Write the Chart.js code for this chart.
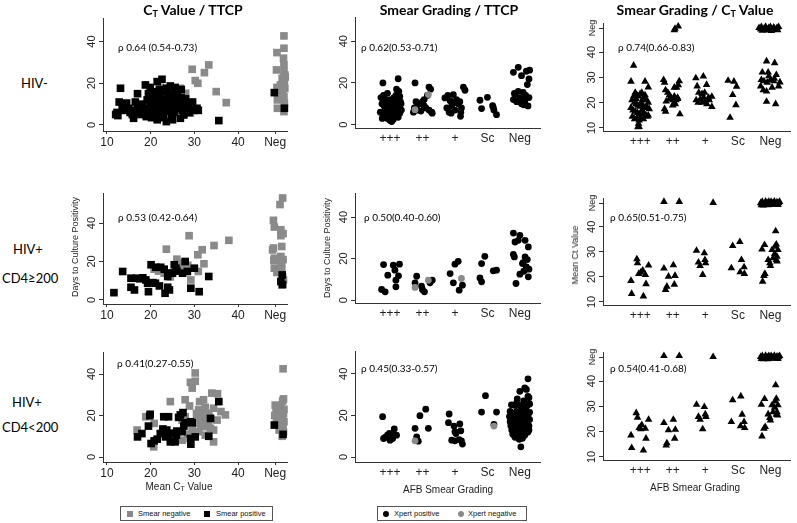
<!DOCTYPE html>
<html>
<head>
<meta charset="utf-8">
<script src="https://cdn.jsdelivr.net/npm/chart.js@4.4.1/dist/chart.umd.min.js"></script>
<style>
  body { margin: 0; background: #fff; }
  #fig { position: relative; width: 797px; height: 523px; overflow: hidden; background: #fff;
         font-family: 'Liberation Sans', Arial, sans-serif; color: #000; }
  #fig canvas { position: absolute; }
  .t { position: absolute; white-space: nowrap; line-height: 16px; z-index: 2; color: #000; }
  .coltitle { font-family: Lato, sans-serif; font-weight: 700; font-size: 14px; transform: translateX(-50%); }
  .coltitle sub { font-size: 9px; vertical-align: -2px; }
  .rowlab { font-family: Lato, sans-serif; font-size: 13px; }
  .rho { font-family: Lato, sans-serif; font-size: 10px; }
  .ytitle { font-size: 9px; color: #222; transform: translate(-50%, -50%) rotate(-90deg); }
  .xtitle { font-size: 10px; color: #222; transform: translateX(-50%); }
  .xtitle sub { font-size: 7px; vertical-align: -1px; }
  .legend { position: absolute; border: 1px solid #555; height: 15px; font-size: 7.5px; z-index: 2;
            box-sizing: border-box; color: #111; }
  .legend span { position: absolute; top: 0; line-height: 13px; white-space: nowrap; }
  .legend i { position: absolute; top: 3.5px; width: 6px; height: 6px; }
</style>
</head>
<body>
<div id="fig"></div>
<script>
// ---- data ----
const smearGrades = ['+++', '++', '+', 'Sc', 'Neg'];
const gradeTicks = [1, 2, 3, 4, 5];
const ctTicks = [10, 20, 30, 40, 48.5];
const ctTickLabels = ['10', '20', '30', '40', 'Neg'];
const ttcpTicks = [0, 20, 40];
const ttcpTickLabels = ['0', '20', '40'];
const ctAxisTicks = [10, 20, 30, 40, 49.5];
const ctAxisLabels = ['10', '20', '30', '40', 'Neg'];

// HIV-: Ct value vs TTCP
const hivNegCtSmearPos = [
  [12,5],[12.3,6],[12.5,4.5],[12.8,11],[13.1,17.6],[13.5,8],[14,7],[14.5,10.5],[15,8],[15.3,6],[15.8,5],[16.1,3.2],
  [16.5,7],[17,15],[17,9],[17.3,6],[17.8,5],[18.2,10],[18.5,8],[18.8,19.2],[19,4],[19.2,12],[19.5,6.5],[19.9,18],
  [20,10],[20,8],[20.2,3.5],[20.5,13],[20.7,6],[21,11],[21,4],[21.3,9],[21.5,20.8],[21.6,7],[21.8,12.5],[22,5.5],
  [22.2,14],[22.4,10],[22.6,21.9],[22.8,8],[23,3.5],[23,12],[23.3,16],[23.5,6.5],[23.6,1.6],[23.7,17.6],[23.9,10],
  [24.1,13],[24.3,7.5],[24.5,18.7],[24.6,11],[24.8,4.5],[25,9],[25.2,14.5],[25.4,6],[25.6,18],[25.8,12],[26,8],
  [26.2,16],[26.4,10.5],[26.8,3.2],[27,13],[27.2,7],[27.5,11],[27.6,4.8],[27.8,9],[28,12.5],[28.2,8],[28.5,10],
  [28.8,6],[29.2,7.5],[29.6,11],[30,7],[30.6,8],[30.9,7],[35.6,2.1],[16.5,11],[18,7],[19.5,15],[20.8,16],[22,17],
  [24,15],[21.5,2.5],[25,2.5],[26,14],[27,17],[48.3,15.5],[50.6,8]
];
const hivNegCtSmearNeg = [
  [22.2,18],[26.8,17.6],[28,15.2],[29.1,5.6],[29.5,26.7],[30.2,21.3],[30.8,20],[32.3,25.1],[33.3,28.8],[35,16],
  [37.3,10.7],[24,12],[26,9],[25,15],
  [50.5,42.7],[50.5,36.8],[48.9,34.7],[50.4,32],[50.5,28.8],[48.8,26.4],[50.5,25.6],[50.7,24],[50.1,22.4],
  [49.7,19.2],[48.9,18],[50.6,20.5],[50.7,17.5],[49.4,14.9],[50.5,13.6],[49,12],[50.6,10.5],[49,8],[50.5,6.4],
  [50.2,16.5],[50.8,23]
];

// HIV-: smear grade vs TTCP
const hivNegSmearXpertPos = [
  [0.78,20],[1.25,22],[0.72,13],[0.8,14],[0.85,12],[0.9,11],[0.75,10],[0.82,9],[0.88,8],[0.95,7],[0.7,6],[0.78,5],
  [0.86,4.5],[0.92,3],[1,2],[1.05,1.5],[1.1,4],[1.15,5],[1.2,6.5],[1.3,5.5],[1.35,7],[1.28,9],[1.32,11],[1.22,12],
  [1.18,14],[1.27,16],[1.2,17],[1.1,10],[1.05,8],[0.98,6],[1.02,12],[0.92,15],[1.12,13],[1.3,13.5],[0.84,7],
  [0.76,3],[1.15,9],[1.25,3.5],[0.96,10],[1.08,6],[0.9,5],[1.34,10],[1.22,8],[1.1,2.5],[0.8,11.5],
  [1.77,20],[2.2,18],[2.25,17],[2.15,14],[1.8,11],[1.9,10],[2,11],[2.05,9],[1.75,8],[1.85,7],[1.95,6.5],[2.1,8],
  [2.28,6],[2.3,5.5],[2.2,7],[1.72,6],[2.05,12],
  [2.69,12.8],[2.78,14],[2.85,11.5],[2.9,9],[2.75,8],[2.95,14.4],[3,7],[2.88,5.5],[2.82,6],[3.05,12],[3.1,10],
  [3.15,11],[3.2,8],[3.26,18],[3.31,16.5],[3.17,4],[3.18,6],[2.95,10.5],
  [3.77,11.7],[3.82,7.7],[4,13.1],[4.16,9.1],[4.18,8.3],[4.2,7],[4.28,4.8],
  [4.8,25.1],[4.95,27.5],[5.05,23.5],[5.2,25.6],[5.3,26.1],[5.28,21.9],[5.23,19.2],[4.85,14.4],[4.8,12],[4.9,11],
  [5,13],[5.05,10],[5.1,15.5],[5.12,9.5],[5.18,14],[5.25,9],[5.28,13],[4.95,16],[5.08,12],[4.83,15],[5.15,11]
];
const hivNegSmearXpertNeg = [[1.77,7.2],[2.18,14.4]];

// HIV-: smear grade vs Ct value
const hivNegSmearCt = [
  [0.8,34.7],[0.72,28.4],[1.15,28.4],[1.25,26.1],[0.85,24],[0.9,23],[0.95,22.5],[1,23.5],[1.05,24],[1.1,22],
  [0.75,21],[0.82,20],[0.88,19.5],[0.93,19],[0.98,18.5],[1.03,20],[1.08,19],[1.13,18],[1.2,21],[1.25,20],
  [1.28,17.5],[0.72,18],[0.78,17],[0.85,16.5],[0.92,16],[1,15.5],[1.05,17],[1.12,16],[1.18,15],[1.22,14.5],
  [0.76,14.5],[0.83,13.5],[0.9,14],[0.97,13],[1.02,14],[1.1,13.5],[1.25,15],[0.95,11.7],[0.93,10.4],[0.97,10.5],
  [0.8,22.5],[1.15,23],[1.2,18.5],[0.88,21.5],[1.08,21],
  [1.72,29],[1.75,28],[1.78,25],[1.85,24],[1.9,23],[1.95,22],[2,21],[2.05,22.5],[2.1,21],[2.15,22],[2.2,28.5],
  [2.17,27],[2.12,26],[2.05,26],[1.75,17.5],[1.78,16.5],[2,19],[2.05,20],[2.22,15.5],[2.15,21.5],[1.8,20.5],
  [1.9,21.5],[2.08,19.5],[2.07,49.3],[2.17,50.2],[2.05,48.7],
  [2.71,29.7],[2.94,30.4],[2.75,26.5],[3.04,27.1],[2.8,24],[2.9,23.5],[2.95,22],[2.85,21.5],[2.72,21],[2.78,20],
  [2.9,20],[3,20.5],[3.1,22],[3.12,21],[3.2,18.4],[3.2,22.4],[3.05,19.5],[2.98,24],
  [3.7,28.7],[3.88,28.4],[3.96,26.4],[3.84,23.1],[3.94,19.1],[3.76,14.1],
  [4.65,49.6],[4.72,50],[4.8,49.2],[4.85,50.1],[4.9,48.6],[4.95,49.6],[5,50],[5.05,49],[5.1,49.8],[5.15,48.8],
  [5.2,49.6],[5.25,50],[4.75,48.5],[4.88,49.3],[5.03,48.4],[5.12,49.3],[5.22,48.7],[4.7,49],
  [4.88,36.4],[5.13,35.7],[4.75,32],[4.93,32],[5.18,31],[4.72,29],[4.8,28.5],[4.9,28],[5,29],[5.1,28.5],[5.29,28.1],
  [5.25,26.5],[4.7,26.5],[4.78,25],[4.88,24.5],[5.05,26],[5.12,29.5],[4.88,20.4],[5.16,19.5],[4.95,30.5]
];

// HIV+ CD4>=200: Ct value vs TTCP
const cd4HighCtSmearPos = [
  [11.6,3.8],[13.6,14.8],[15.5,11.3],[16.7,11.3],[15.5,6.6],[16.3,5.2],[18.9,10.4],[19.3,8.7],[19.5,4.3],[20.1,18.3],
  [21.2,17],[22.3,17],[23.1,16],[21.1,8.7],[22,7.3],[23.3,3.5],[23.9,6.6],[24.3,5.2],[23.9,12.2],[25,13.9],
  [25.4,18.3],[25.8,16.5],[27.3,13.9],[27.9,20],[28.4,14.8],[29.2,6.1],[30,16.5],[31.1,4.3],[33.3,12.2],[17.5,11],
  [18.2,11.5],[20.5,9],[26,15],[24.5,14],[50.1,13],[49.8,9.6],[50.2,8]
];
const cd4HighCtSmearNeg = [
  [23.6,26.4],[28.8,33.4],[31.8,26.1],[30.8,23.5],[34.5,28.3],[37.9,31],[26,21.2],[26.9,19.1],[32.2,18.8],[30.9,14.8],
  [29.2,10.4],[20.8,16],[23.1,13.9],[27.2,16.5],[28.5,18],[24.5,12],[21.8,15],
  [50.2,53],[49.6,49.6],[48.1,41.4],[48.3,37.9],[49.8,36.5],[49.8,33.4],[50,27.8],[48.1,27],[47.9,26],[48.3,21.7],
  [49.8,22.6],[50,19.1],[48.3,16.5],[48.9,14.3],[50,15.7],[50,7.8],[50.3,34.5],[50.3,21],[49.2,20.5],[50.2,12],
  [50.4,10.5],[48.2,20.5]
];

// HIV+ CD4>=200: smear grade vs TTCP
const cd4HighSmearXpertPos = [
  [0.8,17.1],[0.93,12],[0.74,5.1],[0.85,4],[1.1,16.8],[1.15,14.4],[1.18,9.6],[1.18,6.4],[1.29,17.3],[1.26,11.7],
  [1.82,11.5],[1.77,8.3],[1.97,6.7],[2.06,4],[2.23,8.3],[2.3,9.6],[2,5],
  [2.85,12.8],[3,17.3],[3.1,18.7],[2.95,8.3],[3.13,4.8],[3.23,7.2],
  [3.77,10.7],[3.82,8.8],[3.82,17.6],[3.92,21.1],[4.18,14.1],[4.28,14.4],
  [4.8,32.3],[5,31.2],[4.85,28],[4.95,28.8],[5.16,28.8],[5.26,25.6],[4.8,22],[4.83,20.8],[5.16,20.8],[5.23,19.5],
  [5.08,17.6],[5.2,16],[5.28,14.9],[5.12,13.9],[5,12.5],[4.88,8],[5.26,11.2],[5.2,15],[5.1,18]
];
const cd4HighSmearXpertNeg = [[1.77,6.1],[2.18,9.6],[3.2,10.4]];

// HIV+ CD4>=200: smear grade vs Ct value
const cd4HighSmearCt = [
  [0.9,27.1],[0.92,25.5],[0.72,18.5],[0.74,13.3],[0.96,21.3],[1.08,22.6],[1.1,12.3],[1.16,20.9],[1.18,17.2],[1.26,24.6],
  [1.02,21.8],
  [1.73,23.4],[1.87,20.2],[1.82,16.2],[1.78,14.9],[2.02,24.7],[2.07,20.5],[2.05,17],[1.73,50],[2.2,50],
  [2.73,30.5],[2.79,25.8],[2.84,24.4],[2.92,20.9],[2.97,29.5],[2.99,26.8],[3.01,25.5],[3.24,49.6],
  [3.8,23.5],[3.84,32.4],[4.06,34],[4.11,26.8],[4.07,21.9],[4.19,23.9],[4.2,21.3],
  [4.74,31],[4.76,18.2],[4.8,20.5],[4.83,21.3],[4.82,32.8],[4.93,26.8],[4.98,25.5],[5,24.4],[5.16,38.3],[5.18,33],
  [5.05,30.8],[5.08,27.5],[5.13,29.2],[5.2,28.1],[5.18,26.8],[5.23,30.8],[5.14,32.1],[5.2,26.2],
  [4.7,49.5],[4.75,50],[4.8,49],[4.85,50.1],[4.9,49.5],[4.95,50],[5,48.8],[5.02,50],[5.07,49.4],[5.12,50.1],
  [5.15,48.9],[5.2,49.8],[5.25,49.5],[5.28,50],[4.78,48.6],[4.92,48.7],[5.1,49.2],[5.23,48.8],[4.72,48.7]
];

// HIV+ CD4<200: Ct value vs TTCP
const cd4LowCtSmearPos = [
  [17,9.7],[18,11.3],[19.5,14.9],[19.8,19.9],[19.9,20.6],[20.1,6.5],[20.8,7.8],[21.5,8.6],[22.2,11.3],[23,19.4],
  [24.1,19.4],[23.4,9.7],[23.7,13],[24.1,10.5],[24.5,7.3],[25.6,7.3],[25.9,10.5],[26.4,19.1],[26.8,20.3],[27.4,21.4],
  [27.2,12.2],[27.6,14.9],[27.9,16.5],[29.1,17],[29.5,16.5],[29.1,8.9],[29.2,6.2],[30.2,9.7],[33.3,10],[33.7,18.6],
  [35.6,26.7],[22.8,13.5],[25,11.5],[26,12.5],[48.3,15.4],[50.3,10.9]
];
const cd4LowCtSmearNeg = [
  [16.9,13],[18.9,19.4],[20.8,16.2],[20.7,4.9],[24.5,26.7],[27.9,27.6],[28.9,24.6],[29.1,36],[30.2,36.5],[30.2,40.5],
  [29.5,33.2],[31.2,26.7],[32.1,27.6],[34,30.8],[35.3,30.5],[31,22.7],[31.8,20.3],[32.5,24],[33.3,21],[34.4,23.5],
  [36.1,21.9],[37.1,20.3],[31.4,17],[32.1,14.6],[33.3,16.2],[33.7,13.8],[34.4,13],[34.4,7.3],[31,12.2],[32.5,10.5],
  [27.2,17.8],[27.9,19.4],[25.3,8.9],[27.2,8.1],[29.5,13],[30.6,18.6],[31.4,19.4],[30.6,16.2],[32.9,17.8],[35.2,17.8],
  [30.5,21],[32,22],[33.5,19],[28.5,11],[31.5,15],
  [50.3,42.5],[50.4,28],[50.2,27],[48.5,25],[49.8,24.5],[50.5,23],[48.7,22],[49.5,21.5],[50.4,21],[48.4,20],
  [49.2,19.5],[50.2,19],[48.8,18],[50.5,17],[49.6,16],[50.3,14],[49.4,13],[50.4,12],[50.1,10]
];

// HIV+ CD4<200: smear grade vs TTCP
const cd4LowSmearXpertPos = [
  [0.77,19.4],[0.8,8.9],[0.92,10.5],[0.98,11.3],[1,8.1],[1.12,10.5],[1.08,8.9],[1.2,10.5],[1.13,13.5],[0.86,9.5],
  [1.77,13.8],[1.82,9.7],[1.87,7.6],[1.92,19.9],[2.1,23],[2.18,13.8],
  [2.82,20.7],[2.8,16.5],[2.97,14.9],[3,12.2],[3.03,11.3],[3.15,15.9],[3.18,12.6],[2.9,8.1],[3,7.8],[3.13,8.4],
  [3.2,7.8],[3.23,6.2],
  [3.82,21.6],[3.94,29.5],[4.28,21.6],[4.2,15.7],
  [5.25,37.6],[5.15,33.2],[5.2,32.5],[5,31.6],[4.92,28],[5.25,29.2],[5.28,28.5],[4.74,25.1],[4.85,24.8],[5,25],
  [5.1,24],[5.22,24.5],[5.3,21.5],[4.7,22],[4.8,21],[4.9,22],[5.05,22.5],[5.15,21],[5.25,20],[4.75,19],[4.85,18],
  [4.95,19.5],[5.08,19],[5.2,18.5],[5.3,18],[4.7,17],[4.8,16],[4.9,16.5],[5,17],[5.12,16],[5.22,16.5],[5.28,15],
  [4.72,15],[4.82,14],[4.95,14.5],[5.05,14],[5.18,13.5],[5.28,13],[4.75,13],[4.88,12],[5,12.5],[5.1,12],[5.25,12],
  [4.78,11],[4.92,10.5],[5.02,10],[5.15,10.5],[4.85,9.5],[4.98,8.5],[5.08,9],[5.03,4.9],[4.9,26],[5.12,27],
  [4.68,19.5],[5.3,25.5],[4.96,20.5],[5.18,22]
];
const cd4LowSmearXpertNeg = [[1.77,7.8],[4.2,14.9]];

// HIV+ CD4<200: smear grade vs Ct value
const cd4LowSmearCt = [
  [0.72,18.6],[0.74,13.6],[0.88,27.4],[0.92,25.6],[0.97,21.5],[1.05,22.7],[1.1,12.6],[1.16,21.2],[1.18,17.3],[1.26,24.8],
  [1.02,21],
  [1.73,23.5],[1.87,20.6],[1.82,15.5],[1.8,14.6],[2.02,24.8],[2.08,20.8],[2.06,17.3],[1.73,50],[2.2,50],
  [2.73,30.7],[2.79,25.9],[2.84,24.8],[2.92,21],[2.97,29.8],[3,26.9],[3.02,25.9],[3.24,49.6],
  [3.8,23.9],[3.84,32.5],[4.09,34],[4.13,26.8],[4.08,22.2],[4.19,23.9],[4.21,21.5],
  [4.72,30.7],[4.74,18.2],[4.8,21.2],[4.84,21.9],[4.82,33],[4.93,26.9],[4.98,25.5],[5,24.5],[5.16,38.4],[5.18,33.1],
  [5.05,30.5],[5.08,27.8],[5.13,29.5],[5.2,27.8],[5.18,26.8],[5.23,30.5],[5.15,32],[5.22,26.5],
  [4.7,49.6],[4.75,50],[4.8,49.1],[4.85,50.1],[4.9,49.5],[4.95,50],[5,48.9],[5.02,50],[5.07,49.4],[5.12,50.1],
  [5.15,48.9],[5.2,49.8],[5.25,49.5],[5.28,50],[4.78,48.7],[4.92,48.7],[5.1,49.2],[5.23,48.8],[4.72,48.8]
];

// ---- layout ----
const BLACK = '#000000';
const GREY = '#8a8a8a';
const YW = 30, XH = 22, PT = 8, PR = 10;

const sq = (data, color) => ({ data, color, style: 'rect', r: 5.4 });
const dot = (data, color) => ({ data, color, style: 'circle', r: 3.4 });
const tri = (data, color) => ({ data, color, style: 'triangle', r: 4.4 });

const ctX = { x: [9.1, 51.2], xTicks: ctTicks, xLabels: ctTickLabels, xTickLen: 3, xPad: 1 };
const gradeX2 = { x: [-0.08, 5.62], xTicks: gradeTicks, xLabels: smearGrades, xTickLen: 0, xPad: 3 };
const gradeX3 = { x: [-0.14, 5.6], xTicks: gradeTicks, xLabels: smearGrades, xTickLen: 0, xPad: 3 };
const ttcpY = { yTicks: ttcpTicks, yLabels: ttcpTickLabels };
const ctY = { yTicks: ctAxisTicks, yLabels: ctAxisLabels, y: [8.8, 51.5] };

const panels = [
  { rect: [103, 18, 287, 131], ...ctX, ...ttcpY, y: [-2.9, 51.3],
    sets: [sq(hivNegCtSmearPos, BLACK), sq(hivNegCtSmearNeg, GREY)] },
  { rect: [355, 17, 540, 128], ...gradeX2, ...ttcpY, y: [-1.6, 51.6],
    sets: [dot(hivNegSmearXpertNeg, GREY), dot(hivNegSmearXpertPos, BLACK)] },
  { rect: [603, 23, 790, 131], ...gradeX3, ...ctY,
    sets: [tri(hivNegSmearCt, BLACK)] },
  { rect: [103, 193, 287, 304], ...ctX, ...ttcpY, y: [-2.1, 55.6],
    sets: [sq(cd4HighCtSmearPos, BLACK), sq(cd4HighCtSmearNeg, GREY)] },
  { rect: [355, 193, 540, 303], ...gradeX2, ...ttcpY, y: [-1.4, 51.6],
    sets: [dot(cd4HighSmearXpertNeg, GREY), dot(cd4HighSmearXpertPos, BLACK)] },
  { rect: [603, 198, 790, 305], ...gradeX3, ...ctY,
    sets: [tri(cd4HighSmearCt, BLACK)] },
  { rect: [103, 352, 287, 462], ...ctX, ...ttcpY, y: [-2.4, 50.6],
    sets: [sq(cd4LowCtSmearPos, BLACK), sq(cd4LowCtSmearNeg, GREY)] },
  { rect: [355, 351, 540, 462], ...gradeX2, ...ttcpY, y: [-2.4, 51],
    sets: [dot(cd4LowSmearXpertNeg, GREY), dot(cd4LowSmearXpertPos, BLACK)] },
  { rect: [603, 352, 790, 460], ...gradeX3, ...ctY,
    sets: [tri(cd4LowSmearCt, BLACK)] }
];

const fig = document.getElementById('fig');
Chart.defaults.font.family = "'Liberation Sans', Arial, sans-serif";

// y tick labels are drawn rotated, reading upwards
function rotatedYLabels(labels) {
  return {
    id: 'rotatedYLabels',
    afterDraw(chart) {
      const s = chart.scales.y, ctx = chart.ctx;
      s.ticks.forEach((t, i) => {
        const lab = labels[i];
        ctx.save();
        ctx.translate(s.right - 6, s.getPixelForValue(t.value));
        ctx.rotate(-Math.PI / 2);
        ctx.font = (lab === 'Neg' ? '9px' : '11px') + " 'Liberation Sans', Arial";
        ctx.fillStyle = '#222';
        ctx.textAlign = 'center';
        ctx.textBaseline = 'bottom';
        ctx.fillText(lab, 0, 0);
        ctx.restore();
      });
    }
  };
}

panels.forEach(p => {
  const [l, t, r, b] = p.rect;
  const c = document.createElement('canvas');
  c.width = (r - l) + YW + PR;
  c.height = (b - t) + PT + XH;
  c.style.left = (l - YW) + 'px';
  c.style.top = (t - PT) + 'px';
  fig.appendChild(c);

  new Chart(c, {
    type: 'scatter',
    data: {
      datasets: p.sets.map(s => ({
        data: s.data.map(([x, y]) => ({ x, y })),
        pointStyle: s.style,
        pointRadius: s.r,
        backgroundColor: s.color,
        borderColor: s.color,
        borderWidth: 0,
        clip: false
      }))
    },
    options: {
      responsive: false,
      animation: false,
      events: [],
      layout: { padding: { top: PT, right: PR, left: 0, bottom: 0 }, autoPadding: false },
      plugins: { legend: { display: false }, tooltip: { enabled: false } },
      scales: {
        x: {
          type: 'linear', min: p.x[0], max: p.x[1],
          afterBuildTicks: s => { s.ticks = p.xTicks.map(v => ({ value: v })); },
          afterFit: s => { s.height = XH; },
          ticks: {
            callback: (v, i) => p.xLabels[i],
            autoSkip: false, maxRotation: 0, minRotation: 0,
            padding: p.xPad, color: '#222', font: { size: 12 }
          },
          grid: { display: true, drawOnChartArea: false, drawTicks: p.xTickLen > 0,
                  tickLength: p.xTickLen, color: '#333' },
          border: { display: true, color: '#333', width: 1 }
        },
        y: {
          type: 'linear', min: p.y[0], max: p.y[1],
          afterBuildTicks: s => { s.ticks = p.yTicks.map(v => ({ value: v })); },
          afterFit: s => { s.width = YW; },
          ticks: { display: false },
          grid: { display: true, drawOnChartArea: false, drawTicks: true, tickLength: 4, color: '#333' },
          border: { display: true, color: '#333', width: 1 }
        }
      }
    },
    plugins: [rotatedYLabels(p.yLabels)]
  });
});

// ---- text ----
function addText(html, cls, left, top) {
  const d = document.createElement('div');
  d.className = 't ' + cls;
  d.innerHTML = html;
  d.style.left = left + 'px';
  d.style.top = top + 'px';
  fig.appendChild(d);
  return d;
}

addText('C<sub>T</sub> Value / TTCP', 'coltitle', 193, 2);
addText('Smear Grading / TTCP', 'coltitle', 449, 2);
addText('Smear Grading / C<sub>T</sub> Value', 'coltitle', 695, 2);

addText('HIV-', 'rowlab', 21, 75);
addText('HIV+', 'rowlab', 13, 241);
addText('CD4≥200', 'rowlab', 2, 270);
addText('HIV+', 'rowlab', 12, 394);
addText('CD4&lt;200', 'rowlab', 2, 419);

addText('ρ 0.64 (0.54-0.73)', 'rho', 118, 39);
addText('ρ 0.62(0.53-0.71)', 'rho', 361, 39);
addText('ρ 0.74(0.66-0.83)', 'rho', 618, 39);
addText('ρ 0.53 (0.42-0.64)', 'rho', 118, 209);
addText('ρ 0.50(0.40-0.60)', 'rho', 364, 209);
addText('ρ 0.65(0.51-0.75)', 'rho', 610, 209);
addText('ρ 0.41(0.27-0.55)', 'rho', 117, 355);
addText('ρ 0.45(0.33-0.57)', 'rho', 361, 360);
addText('ρ 0.54(0.41-0.68)', 'rho', 610, 360);

addText('Days to Culture Positivity', 'ytitle', 75, 247);
addText('Days to Culture Positivity', 'ytitle', 327, 248);
addText('Mean Ct Value', 'ytitle', 575, 255);

addText('Mean C<sub>T</sub> Value', 'xtitle', 179, 479);
addText('AFB Smear Grading', 'xtitle', 448, 482);
addText('AFB Smear Grading', 'xtitle', 695, 480);

function addLegend(left, width, items) {
  const box = document.createElement('div');
  box.className = 'legend';
  box.style.left = left + 'px';
  box.style.top = '506px';
  box.style.width = width + 'px';
  items.forEach(it => {
    const m = document.createElement('i');
    m.style.left = it.mx + 'px';
    m.style.background = it.color;
    if (it.round) m.style.borderRadius = '50%';
    box.appendChild(m);
    const s = document.createElement('span');
    s.style.left = it.tx + 'px';
    s.textContent = it.label;
    box.appendChild(s);
  });
  fig.appendChild(box);
}
addLegend(120, 153, [
  { label: 'Smear negative', color: GREY, mx: 6, tx: 17 },
  { label: 'Smear positive', color: BLACK, mx: 83, tx: 95 }
]);
addLegend(377, 150, [
  { label: 'Xpert positive', color: BLACK, mx: 5, tx: 16, round: true },
  { label: 'Xpert negative', color: GREY, mx: 80, tx: 90, round: true }
]);
</script>
</body>
</html>
